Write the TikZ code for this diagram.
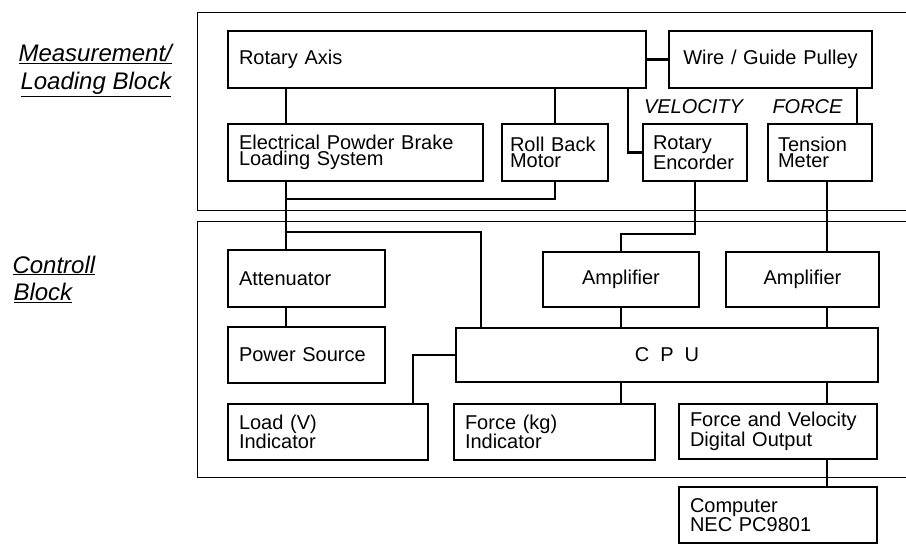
\documentclass[tikz,border=0pt]{standalone}
\usepackage{fontspec}
\setmainfont{Liberation Sans}
\usetikzlibrary{positioning,calc}

\begin{document}
\begin{tikzpicture}[x=1pt,y=-1pt,
  blk/.style={draw,line width=2.4pt,inner xsep=11pt,inner ysep=0pt,align=left,font=\fontsize{20}{16.5}\selectfont},
  mid/.style={blk,align=center},
  lnk/.style={line width=2.4pt},
  frm/.style={line width=1pt},
  tag/.style={font=\fontsize{20}{22}\selectfont\itshape},
  ttl/.style={anchor=base west,font=\fontsize{24}{28}\selectfont\itshape},
]
\useasboundingbox (0,0) rectangle (906,559);
% ---------- block frames ----------
\draw[frm] (906,13) -- (197,13) -- (197,211) -- (906,211);
\draw[frm] (906,222) -- (197,222) -- (197,477) -- (906,477);
\node[ttl] (meas1) at (15,62) {\underline{Measurement/}};
\node[ttl] (meas2) at (17,90) {\underline{Loading Block}};
\node[ttl] (ctrl1) at (9,273) {\underline{Controll}};
\node[ttl] (ctrl2) at (10,301) {\underline{Block}};
% ---------- measurement / loading ----------
\node[blk,text width=396pt,minimum height=57pt] (axis) at (437,59.5) {Rotary Axis};
\node[mid,text width=181pt,minimum height=57pt] (pulley) at (770.5,59.5) {Wire / Guide Pulley};
\node[blk,text width=233pt,minimum height=57pt] (brake) at (355.5,152.5) {Electrical Powder Brake\\Loading System};
\node[blk,inner xsep=8pt,text width=90pt,minimum height=57pt] (motor) at (555,152.5) {Roll Back\\Motor};
\node[blk,inner xsep=10pt,text width=84pt,minimum height=57pt] (encoder) at (695,152.5) {Rotary\\Encorder};
\node[blk,inner xsep=10pt,text width=84pt,minimum height=57pt] (tension) at (820,152.5) {Tension\\Meter};
\node[tag] (vel) at (693.5,107) {VELOCITY};
\node[tag] (frc) at (807.5,107) {FORCE};
% ---------- control ----------
\node[blk,text width=135pt,minimum height=57pt] (atten) at (306.5,278.5) {Attenuator};
\node[blk,text width=135pt,minimum height=56pt] (power) at (306.5,355) {Power Source};
\node[mid,text width=134pt,minimum height=55pt] (amp1) at (621,279.5) {Amplifier};
\node[mid,text width=131pt,minimum height=55pt] (amp2) at (802.5,279.5) {Amplifier};
\node[mid,text width=400pt,minimum height=54pt] (cpu) at (667,355) {C\hspace{0.55em}P\hspace{0.55em}U};
\node[blk,text width=178pt,minimum height=56pt] (load) at (328,432) {Load (V)\\Indicator};
\node[blk,text width=179pt,minimum height=56pt] (force) at (554.5,432) {Force (kg)\\Indicator};
\node[blk,text width=176pt,minimum height=55pt] (digout) at (778,431.5) {Force and Velocity\\Digital Output};
\node[blk,text width=176pt,minimum height=56pt] (computer) at (778,515) {Computer\\NEC PC9801};
% ---------- wiring ----------
\coordinate (bx) at (286,0);
\coordinate (ex) at (628,0);
\coordinate (px) at (857,0);
\coordinate (tx) at (827,0);
\coordinate (cx) at (481,0);
\coordinate (lx) at (413,0);
\coordinate (mbus) at (286,199);
\coordinate (cbus) at (286,232);
\draw[lnk] (axis.south -| bx) -- (brake.north -| bx);
\draw[lnk] (axis.south -| motor.north) -- (motor.north);
\draw[lnk] (axis.south -| ex) |- (encoder.west);
\draw[lnk] (axis.east) -- (pulley.west);
\draw[lnk] (pulley.south -| px) -- (tension.north -| px);
\draw[lnk] (brake.south -| bx) -- (atten.north -| bx);
\draw[lnk] (motor.south) |- (mbus);
\draw[lnk] (cbus) -| (cpu.north -| cx);
\draw[lnk] (atten.south -| bx) -- (power.north -| bx);
\draw[lnk] (encoder.south) -- ++(0,52) -| (amp1.north);
\draw[lnk] (tension.south -| tx) -- (amp2.north -| tx);
\draw[lnk] (amp1.south) -- (cpu.north -| amp1.south);
\draw[lnk] (amp2.south -| tx) -- (cpu.north -| tx);
\draw[lnk] (cpu.west) -| (load.north -| lx);
\draw[lnk] (cpu.south -| amp1.south) -- (force.north -| amp1.south);
\draw[lnk] (cpu.south -| tx) -- (digout.north -| tx);
\draw[lnk] (digout.south -| tx) -- (computer.north -| tx);
\end{tikzpicture}
\end{document}
